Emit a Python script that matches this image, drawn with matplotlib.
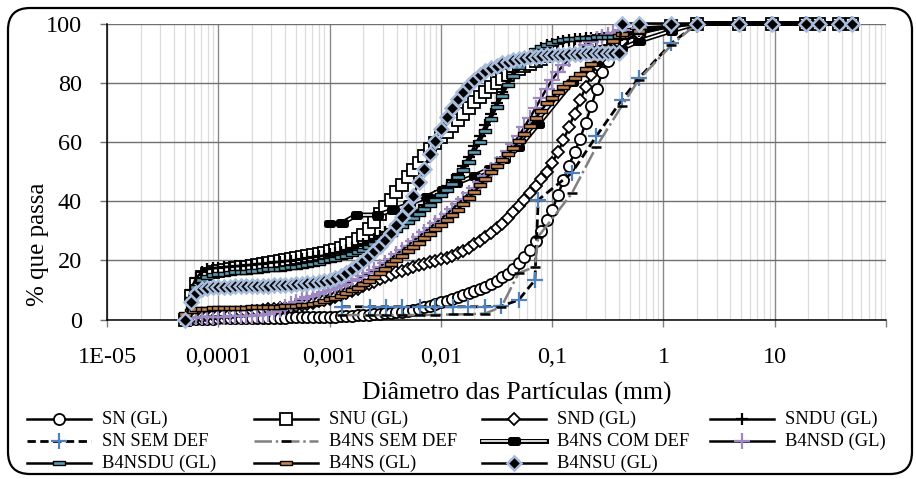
import matplotlib
matplotlib.use("Agg")
import matplotlib.pyplot as plt
import matplotlib.patheffects as pe
from matplotlib.lines import Line2D
from matplotlib.patches import FancyBboxPatch
from matplotlib.path import Path
from matplotlib.transforms import IdentityTransform
from matplotlib.ticker import FixedLocator, FixedFormatter, LogLocator, NullFormatter

plt.rcParams['font.family'] = ['Liberation Serif', 'DejaVu Serif']

# ---------------------------------------------------------------- data
# laser granulometer size classes (micrometres)
laser_um = [0.0502, 0.0564, 0.0632, 0.0710, 0.0796, 0.0893,
            0.1002, 0.1125, 0.1262, 0.1416, 0.1589, 0.1783, 0.2000, 0.2244, 0.2518, 0.2825,
            0.3170, 0.3557, 0.3991, 0.4477, 0.5024, 0.5637, 0.6325, 0.7096, 0.7962, 0.8934,
            1.002, 1.125, 1.262, 1.416, 1.589, 1.783, 2.000, 2.244, 2.518, 2.825,
            3.170, 3.557, 3.991, 4.477, 5.024, 5.637, 6.325, 7.096, 7.962, 8.934,
            10.02, 11.25, 12.62, 14.16, 15.89, 17.83, 20.00, 22.44, 25.18, 28.25,
            31.70, 35.57, 39.91, 44.77, 50.24, 56.37, 63.25, 70.96, 79.62, 89.34,
            100.2, 112.5, 126.2, 141.6, 158.9, 178.3, 200.0, 224.4, 251.8, 282.5,
            317.0, 355.7, 399.1]
laser_mm = [v / 1000.0 for v in laser_um]

# sieve openings (mm)
sieve_mm = [0.42, 0.6, 1.18, 2.0, 4.75, 9.5, 19.0, 25.0, 37.5, 50.0]

sn_gl = [0, 0.2, 0.3, 0.3, 0.3, 0.3,
         0.4, 0.4, 0.4, 0.4, 0.5, 0.5, 0.5, 0.5, 0.5, 0.6, 0.6, 0.6, 0.6, 0.7, 0.7, 0.7, 0.8, 0.8, 0.9, 0.9,
         1.0, 1.0, 1.1, 1.2, 1.3, 1.4, 1.5, 1.6, 1.7, 1.9, 2.1, 2.3, 2.5, 2.7, 3.0, 3.3, 3.7, 4.1, 4.6, 5.2,
         5.8, 6.4, 7.0, 7.6, 8.2, 8.8, 9.5, 10.2, 11.0, 12.0, 13.0, 14.2, 15.5, 17.2, 19.0, 21.0, 23.5, 26.5, 30.0, 33.5,
         37.0, 42.0, 47.0, 52.0, 56.5, 61.0, 66.5, 72.0, 78.0, 83.5, 87.5, 90.0, 92.0]
sn_gl_sieve = [93.5, 96.5, 99.5, 100, 100, 100, 100, 100, 100, 100]

snu_gl = [0, 8.0, 12.0, 14.5, 15.5, 16.0,
          16.5, 16.8, 17.0, 17.3, 17.6, 17.9, 18.2, 18.5, 18.8, 19.1, 19.4, 19.7, 20.0, 20.3, 20.7, 21.0, 21.4, 21.8, 22.2, 22.6,
          23.0, 23.6, 24.3, 25.1, 26.0, 27.2, 28.5, 30.5, 33.0, 35.5, 38.0, 40.5, 43.0, 45.5, 48.0, 50.5, 53.0, 55.3, 57.5, 59.5,
          61.5, 63.5, 65.5, 67.5, 69.5, 71.5, 73.5, 75.3, 77.0, 78.5, 80.0, 81.3, 82.5, 83.6, 84.6, 85.5, 86.4, 87.3, 88.1, 88.9,
          89.6, 90.3, 91.0, 91.6, 92.2, 92.7, 93.2, 93.6, 94.0, 94.3, 94.6, 94.8, 95.0]
snu_gl_sieve = [95.5, 97.0, 99.0, 100, 100, 100, 100, 100, 100, 100]

snd_gl = [0, 0.5, 0.8, 1.0, 1.2, 1.4,
          1.6, 1.8, 2.0, 2.2, 2.4, 2.6, 2.8, 3.0, 3.2, 3.4, 3.6, 3.8, 4.0, 4.3, 4.6, 4.9, 5.3, 5.7, 6.1, 6.5,
          7.0, 7.6, 8.2, 8.9, 9.6, 10.4, 11.2, 12.0, 12.8, 13.6, 14.4, 15.2, 15.9, 16.5, 17.1, 17.7, 18.3, 18.8, 19.3, 19.8,
          20.3, 20.9, 21.6, 22.4, 23.3, 24.3, 25.4, 26.6, 27.9, 29.3, 30.8, 32.4, 34.2, 36.2, 38.3, 40.5, 42.8, 45.2, 47.6, 50.0,
          53.0, 56.5, 60.5, 65.0, 69.5, 74.0, 78.5, 82.5, 86.0, 88.8, 90.8, 92.2, 93.3]
snd_gl_sieve = [94.0, 96.5, 99.0, 100, 100, 100, 100, 100, 100, 100]

sndu_gl = [0, 10.0, 14.0, 16.0, 17.0, 17.3,
           17.5, 17.7, 17.9, 18.0, 18.1, 18.3, 18.5, 18.7, 18.9, 19.1, 19.3, 19.5, 19.7, 19.9, 20.1, 20.4, 20.7, 21.0, 21.3, 21.6,
           22.0, 22.4, 22.9, 23.4, 24.0, 24.7, 25.5, 26.4, 27.3, 28.3, 29.4, 30.5, 31.7, 33.0, 34.3, 35.7, 37.1, 38.6, 40.1, 41.6,
           43.2, 45.0, 47.0, 49.3, 52.0, 55.0, 58.5, 62.0, 65.7, 69.5, 73.3, 77.0, 80.5, 83.5, 86.0, 88.0, 89.6, 90.8, 91.8, 92.6,
           93.2, 93.7, 94.1, 94.4, 94.7, 94.9, 95.1, 95.2, 95.3, 95.4, 95.5, 95.5, 95.6]
sndu_gl_sieve = [96.0, 97.5, 99.3, 100, 100, 100, 100, 100, 100, 100]

b4nsd_gl = [0, 0.5, 0.7, 0.8, 0.9, 1.0,
            1.0, 1.0, 1.1, 1.1, 1.2, 1.2, 1.3, 1.4, 1.6, 2.0, 2.6, 3.3, 4.2, 5.1, 6.0, 6.8, 7.5, 8.1, 8.7, 9.3,
            10.0, 10.7, 11.4, 12.1, 12.9, 13.7, 14.6, 15.6, 16.7, 17.9, 19.2, 20.6, 22.0, 23.5, 25.0, 26.5, 28.0, 29.5, 31.0, 32.5,
            34.0, 35.6, 37.3, 39.0, 40.8, 42.6, 44.5, 46.5, 48.5, 50.5, 52.5, 54.6, 56.8, 59.3, 62.0, 65.0, 68.2, 71.5, 74.8, 78.0,
            81.0, 83.7, 86.0, 88.0, 89.8, 91.3, 92.6, 93.7, 94.6, 95.4, 96.1, 96.7, 97.2]
b4nsd_gl_sieve = [97.8, 98.5, 99.2, 99.5, 99.8, 100, 100, 100, 100, 100]

b4nsdu_gl = [0, 7.0, 11.0, 13.5, 14.5, 15.0,
             15.3, 15.5, 15.7, 15.9, 16.0, 16.2, 16.4, 16.5, 16.7, 16.9, 17.0, 17.2, 17.4, 17.6, 17.8, 18.1, 18.4, 18.8, 19.2, 19.6,
             20.0, 20.5, 21.0, 21.5, 22.1, 22.8, 23.6, 24.5, 25.5, 26.6, 27.8, 29.0, 30.3, 31.6, 33.0, 34.4, 35.8, 37.3, 38.8, 40.4,
             42.0, 43.8, 45.8, 48.0, 50.5, 53.3, 56.5, 60.0, 63.8, 67.8, 71.8, 75.6, 79.2, 82.4, 85.2, 87.5, 89.4, 90.9, 92.0, 92.9,
             93.5, 94.0, 94.3, 94.6, 94.8, 95.0, 95.1, 95.2, 95.3, 95.4, 95.4, 95.5, 95.5]
b4nsdu_gl_sieve = [95.8, 97.2, 99.0, 100, 100, 100, 100, 100, 100, 100]

b4ns_gl = [2.0, 3.0, 3.4, 3.6, 3.7, 3.8,
           3.8, 3.9, 3.9, 4.0, 4.0, 4.0, 4.1, 4.1, 4.2, 4.2, 4.3, 4.3, 4.4, 4.5, 4.6, 4.8, 5.0, 5.3, 5.7, 6.2,
           6.8, 7.4, 8.1, 8.9, 9.8, 10.8, 11.9, 13.1, 14.4, 15.8, 17.2, 18.6, 20.0, 21.5, 23.0, 24.5, 26.0, 27.5, 29.0, 30.5,
           32.0, 33.6, 35.3, 37.1, 39.0, 41.0, 43.1, 45.3, 47.5, 49.7, 51.8, 53.8, 55.8, 57.9, 60.2, 62.7, 65.3, 68.0, 70.6, 73.0,
           75.0, 76.8, 78.5, 80.0, 81.5, 83.0, 84.6, 86.3, 88.1, 90.0, 92.0, 94.0, 95.8]
b4ns_gl_sieve = [96.5, 97.5, 99.0, 100, 100, 100, 100, 100, 100, 100]

b4nsu_gl = [0, 6.0, 9.0, 10.3, 10.8, 11.0,
            11.1, 11.1, 11.1, 11.2, 11.2, 11.2, 11.3, 11.3, 11.4, 11.4, 11.5, 11.6, 11.7, 11.8, 11.9, 12.0, 12.2, 12.4, 12.7, 13.0,
            13.4, 14.0, 14.8, 15.8, 17.0, 18.3, 19.7, 21.3, 23.0, 24.9, 27.0, 29.3, 31.8, 34.5, 37.8, 41.8, 46.3, 51.0, 55.8, 60.3,
            64.5, 68.3, 71.6, 74.5, 77.0, 79.2, 81.0, 82.5, 83.8, 84.9, 85.8, 86.5, 87.1, 87.6, 88.0, 88.3, 88.6, 88.8, 89.0, 89.2,
            89.3, 89.4, 89.5, 89.6, 89.7, 89.8, 89.9, 89.9, 90.0, 90.0, 90.1, 90.1, 90.2]
b4nsu_gl_sieve = [100, 100, 100, 100, 100, 100, 100, 100, 100, 100]

# sedimentation + sieving
sn_sem_x = [0.0013, 0.0023, 0.0032, 0.0045, 0.0065, 0.0089, 0.0129, 0.0175, 0.025, 0.035, 0.05, 0.07,
            0.075, 0.15, 0.25, 0.42, 0.6, 1.18, 2.0, 4.75, 9.5, 19.0, 25.0, 37.5, 50.0]
sn_sem_y = [4.3, 4.3, 4.3, 4.3, 4.3, 4.3, 4.3, 4.3, 4.3, 4.5, 6.6, 13.3,
            40.4, 49.5, 62.0, 74.0, 81.5, 93.3, 100, 100, 100, 100, 100, 100, 100]

b4ns_sem_x = [0.0013, 0.0023, 0.0032, 0.0045, 0.0065, 0.0089, 0.0129, 0.0175, 0.025, 0.035, 0.05, 0.07,
              0.075, 0.15, 0.25, 0.42, 0.6, 1.18, 2.0, 4.75, 9.5, 19.0, 25.0, 37.5, 50.0]
b4ns_sem_y = [1.5, 1.5, 1.5, 1.5, 1.5, 1.6, 1.7, 1.8, 2.0, 4.3, 15.7, 17.8,
              28.0, 42.6, 58.4, 72.0, 81.0, 92.7, 100, 100, 100, 100, 100, 100, 100]

b4ns_com_x = [0.001, 0.0013, 0.00175, 0.0027, 0.0037, 0.0052, 0.0075, 0.0105, 0.0138, 0.02, 0.0278, 0.037,
              0.05, 0.075, 0.15, 0.25, 0.42, 0.6, 1.18, 2.0, 4.75, 9.5, 19.0, 25.0, 37.5, 50.0]
b4ns_com_y = [32.3, 32.6, 35.3, 35.3, 37.0, 39.0, 41.5, 44.0, 46.0, 48.5, 51.0, 54.0,
              58.0, 66.0, 80.0, 87.0, 91.5, 94.0, 97.5, 100, 100, 100, 100, 100, 100, 100]

labels = ['SN (GL)', 'SNU (GL)', 'SND (GL)', 'SNDU (GL)', 'SN SEM DEF', 'B4NS SEM DEF',
          'B4NS COM DEF', 'B4NSD (GL)', 'B4NSDU (GL)', 'B4NS (GL)', 'B4NSU (GL)']

# ---------------------------------------------------------------- styles
bar_marker = Path([(-1, -0.42), (1, -0.42), (1, 0.42), (-1, 0.42), (-1, -0.42)],
                  [Path.MOVETO, Path.LINETO, Path.LINETO, Path.LINETO, Path.CLOSEPOLY])

compound = [pe.Stroke(linewidth=3.6, foreground='black'), pe.Normal()]

styles = [
    dict(color='black', lw=1.8, marker='o', ms=8.0, mfc='white', mec='black', mew=1.3),
    dict(color='black', lw=1.8, marker='s', ms=8.0, mfc='white', mec='black', mew=1.3),
    dict(color='black', lw=1.8, marker='D', ms=6.3, mfc='white', mec='black', mew=1.3),
    dict(color='black', lw=1.8, marker='+', ms=8.5, mec='black', mew=1.6),
    dict(color='black', lw=2.0, ls=(0, (3, 1.6)), marker='+', ms=12, mec='#4f81bd', mew=1.6),
    dict(color='#808080', lw=1.8, ls=(0, (7, 1.5, 1, 1.5)), marker='_', ms=7, mec='black', mew=1.8),
    dict(color='white', lw=1.2, marker=bar_marker, ms=5.5, mfc='black', mec='black', mew=0.6,
         path_effects=compound),
    dict(color='black', lw=1.8, marker='+', ms=12, mec='#9d88c2', mew=1.6),
    dict(color='black', lw=1.8, marker=bar_marker, ms=8.0, mfc='#5a9db2', mec='black', mew=1.0),
    dict(color='black', lw=1.8, marker=bar_marker, ms=8.5, mfc='#c8834c', mec='black', mew=1.0),
    dict(color='black', lw=1.8, marker='D', ms=7.5, mfc='black', mec='#a8bddb', mew=1.8),
]

series_x = [laser_mm + sieve_mm] * 4 + [sn_sem_x, b4ns_sem_x, b4ns_com_x] + [laser_mm + sieve_mm] * 4
series_y = [sn_gl + sn_gl_sieve, snu_gl + snu_gl_sieve, snd_gl + snd_gl_sieve, sndu_gl + sndu_gl_sieve,
            sn_sem_y, b4ns_sem_y, b4ns_com_y,
            b4nsd_gl + b4nsd_gl_sieve, b4nsdu_gl + b4nsdu_gl_sieve, b4ns_gl + b4ns_gl_sieve,
            b4nsu_gl + b4nsu_gl_sieve]

# ---------------------------------------------------------------- figure
W, H = 916, 479
fig = plt.figure(figsize=(W / 100, H / 100), dpi=100)
fig.patch.set_facecolor('white')

ax = fig.add_axes([107 / W, 1 - 319.5 / H, (886 - 107) / W, (319.5 - 23.5) / H])

for k, (xs, ys, st) in enumerate(zip(series_x, series_y, styles)):
    ax.plot(xs, ys, clip_on=False, zorder=3 + k, **st)

ax.set_xscale('log')
ax.set_xlim(1e-5, 100)
ax.set_ylim(0, 100)

xt = [1e-5, 1e-4, 1e-3, 1e-2, 1e-1, 1, 10, 100]
ax.xaxis.set_major_locator(FixedLocator(xt))
ax.xaxis.set_major_formatter(FixedFormatter(['1E-05', '0,0001', '0,001', '0,01', '0,1', '1', '10', '']))
ax.xaxis.set_minor_locator(LogLocator(base=10, subs=[2, 3, 4, 5, 6, 7, 8, 9], numticks=20))
ax.xaxis.set_minor_formatter(NullFormatter())
ax.set_yticks([0, 20, 40, 60, 80, 100])
ax.set_yticklabels(['0', '20', '40', '60', '80', '100'])

ax.grid(which='minor', axis='x', color='#dcdcdc', lw=0.9, zorder=0)
ax.grid(which='major', axis='x', color='#8a8a8a', lw=1.0, zorder=0)
ax.grid(which='major', axis='y', color='#707070', lw=1.0, zorder=0)
ax.set_axisbelow(True)

for s in ('top', 'right'):
    ax.spines[s].set_visible(False)
for s in ('left', 'bottom'):
    ax.spines[s].set_color('black')
    ax.spines[s].set_linewidth(1.1)

ax.tick_params(axis='x', which='major', direction='out', length=5, width=1, color='#808080',
               labelsize=17.5, pad=15)
ax.tick_params(axis='x', which='minor', length=0)
ax.tick_params(axis='y', which='major', direction='out', length=5, width=1, color='#707070',
               labelsize=17.5, pad=13)

fig.text(38 / W, 1 - 244 / H, '% que passa', rotation=90, ha='center', va='center', fontsize=18)
fig.text(517 / W, 1 - 393 / H, 'Diâmetro das Partículas (mm)', ha='center', va='center', fontsize=18.5)

# ---------------------------------------------------------------- legend
col_x = [27, 254, 482, 710]
row_y = [419, 441, 463]
order = [[0, 1, 2, 3], [4, 5, 6, 7], [8, 9, 10]]
for r, row in enumerate(order):
    for c, k in enumerate(row):
        x0 = col_x[c]
        y = 1 - row_y[r] / H
        xs = [x0 / W, (x0 + 32) / W, (x0 + 64) / W]
        handle = Line2D(xs, [y, y, y], transform=fig.transFigure, markevery=[1], **styles[k])
        fig.add_artist(handle)
        fig.text((x0 + 75) / W, y, labels[k], ha='left', va='center', fontsize=13.4)

# rounded frame around the whole chart
frame = FancyBboxPatch((8, 5), 904, 466, boxstyle='round,pad=0,rounding_size=22',
                       transform=IdentityTransform(), fill=False, edgecolor='black', lw=1.6)
fig.add_artist(frame)

fig.savefig('out.png', dpi=100)
